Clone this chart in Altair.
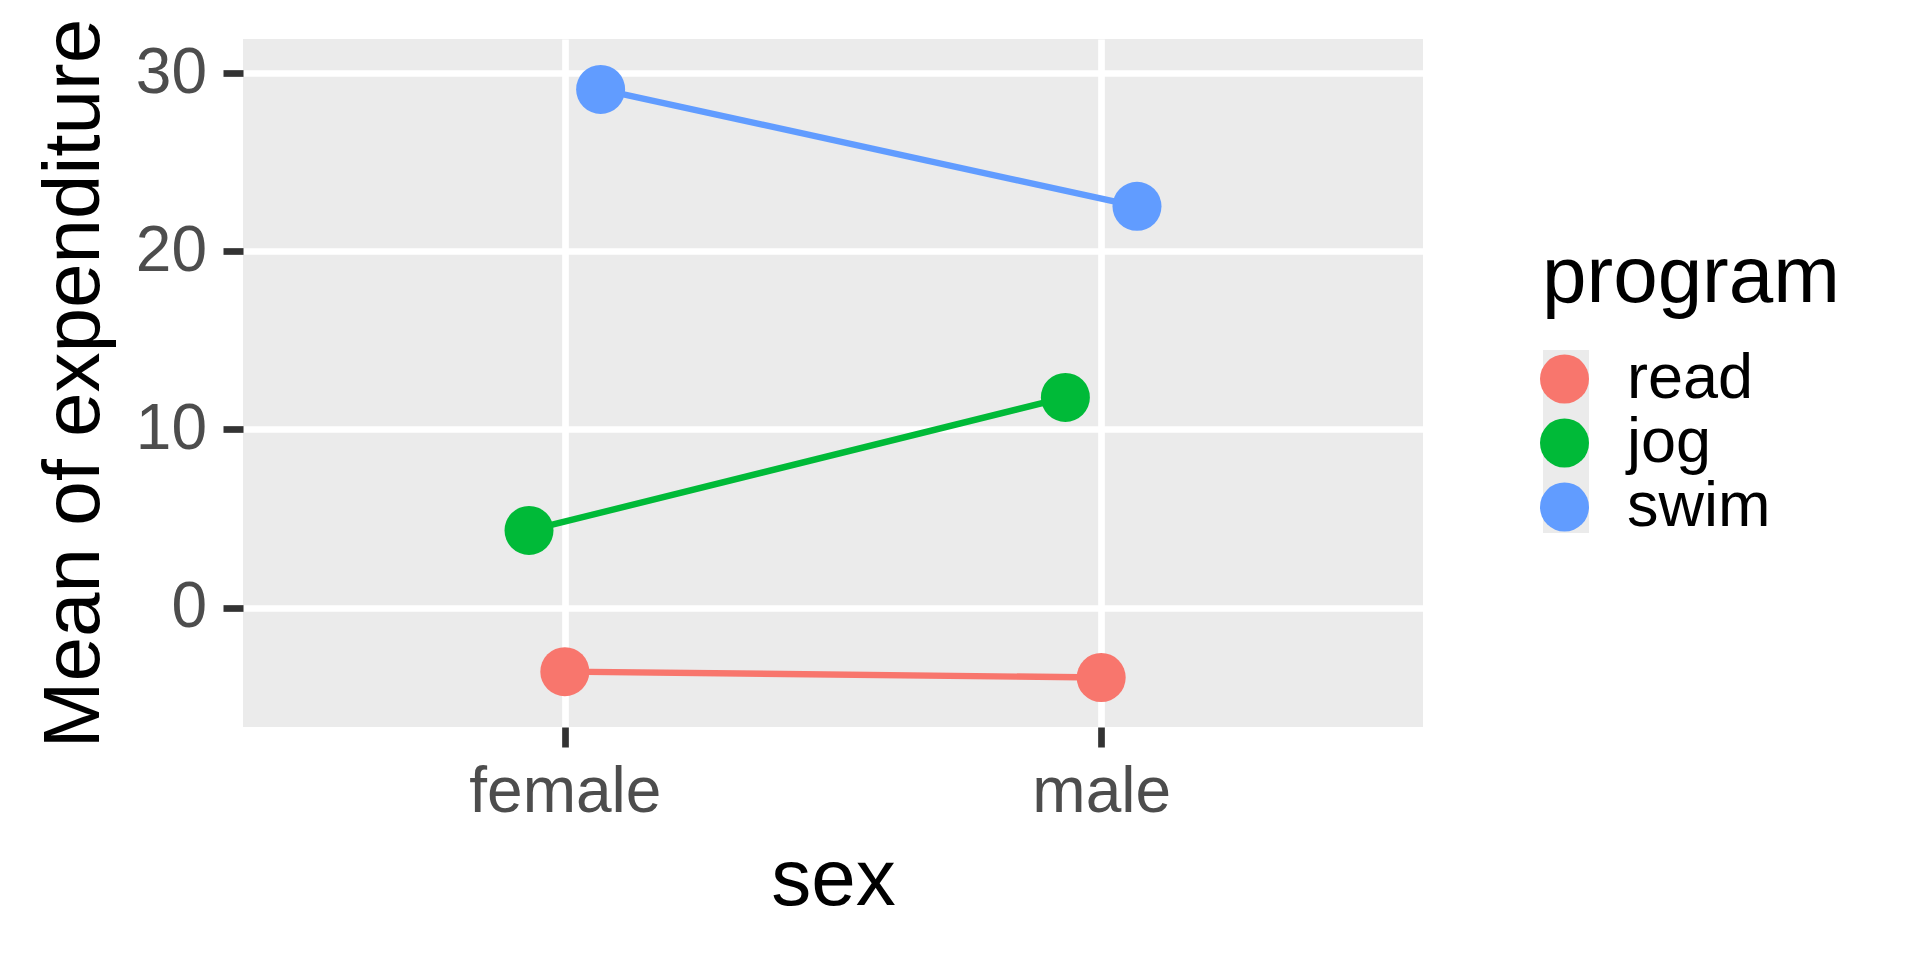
import altair as alt
import pandas as pd

# ---- data ----
sex_levels = ["female", "male"]
programs = ["read", "jog", "swim"]
read_means = [-3.60, -3.93]
jog_means = [4.33, 11.80]
swim_means = [29.10, 22.53]
program_colors = ["#F8766D", "#00BA38", "#619CFF"]
dodge_order = ["jog", "read", "swim"]
y_ticks = [0, 10, 20, 30]

rows = []
for prog, vals in zip(programs, [read_means, jog_means, swim_means]):
    for s, v in zip(sex_levels, vals):
        rows.append({"sex": s, "program": prog, "mean": v})
df = pd.DataFrame(rows)

FONT = "Liberation Sans"
W, H = 1180, 688

x_enc = alt.X("sex:N", scale=alt.Scale(type="point", domain=sex_levels, padding=0.6),
              axis=alt.Axis(title="sex", labelAngle=0))
xo_enc = alt.XOffset("program:N", scale=alt.Scale(domain=dodge_order, range=[-35.8, 35.8],
                                                   paddingInner=0, paddingOuter=0))
y_enc = alt.Y("mean:Q", scale=alt.Scale(domain=[-6.71, 31.93], nice=False, zero=False),
              axis=alt.Axis(title="Mean of expenditure", values=y_ticks))
color_enc = alt.Color("program:N",
                      scale=alt.Scale(domain=programs, range=program_colors),
                      sort=programs,
                      legend=alt.Legend(title="program", orient="none",
                                        legendX=1299, legendY=199.5))

base = alt.Chart(df)

lines = base.mark_line(strokeWidth=6.4).encode(
    x=x_enc, xOffset=xo_enc, y=y_enc, color=color_enc, detail="program:N"
)
points = base.mark_circle(size=2401, opacity=1).encode(
    x=x_enc, xOffset=xo_enc, y=y_enc, color=color_enc
)

key_bg = alt.Chart(pd.DataFrame({"k": [0]})).mark_rect(color="#EBEBEB").encode(
    x=alt.value(1300), x2=alt.value(1346), y=alt.value(311), y2=alt.value(494)
)

chart = alt.layer(key_bg, lines, points).properties(
    width=W, height=H,
    autosize=alt.AutoSizeParams(type="none"),
    padding={"left": 235, "top": 31, "right": 480, "bottom": 220},
).configure_view(
    fill="#EBEBEB", stroke=None
).configure_axis(
    labelFont=FONT, titleFont=FONT,
    labelFontSize=64, labelColor="#4D4D4D", labelLimit=1000,
    titleFontSize=80, titleColor="#000000", titleFontWeight="normal", titleLimit=2000,
    domain=False, grid=True, gridColor="#FFFFFF", gridWidth=6.7,
    tickColor="#333333", tickWidth=6.7, tickSize=20,
).configure_axisX(
    labelPadding=13.4, titlePadding=17
).configure_axisY(
    labelPadding=16.5, titlePadding=19.5
).configure_legend(
    titleFont=FONT, labelFont=FONT,
    titleFontSize=80, titleColor="#000000", titleFontWeight="normal", titleLimit=1000,
    labelFontSize=63, labelColor="#000000", labelLimit=1000,
    symbolSize=2401, symbolType="circle", symbolStrokeWidth=0, symbolOpacity=1,
    symbolOffset=-9, labelOffset=31, rowPadding=0, titlePadding=29, padding=0,
)

chart.save("out.html", embed_options={"renderer": "svg", "actions": False})
